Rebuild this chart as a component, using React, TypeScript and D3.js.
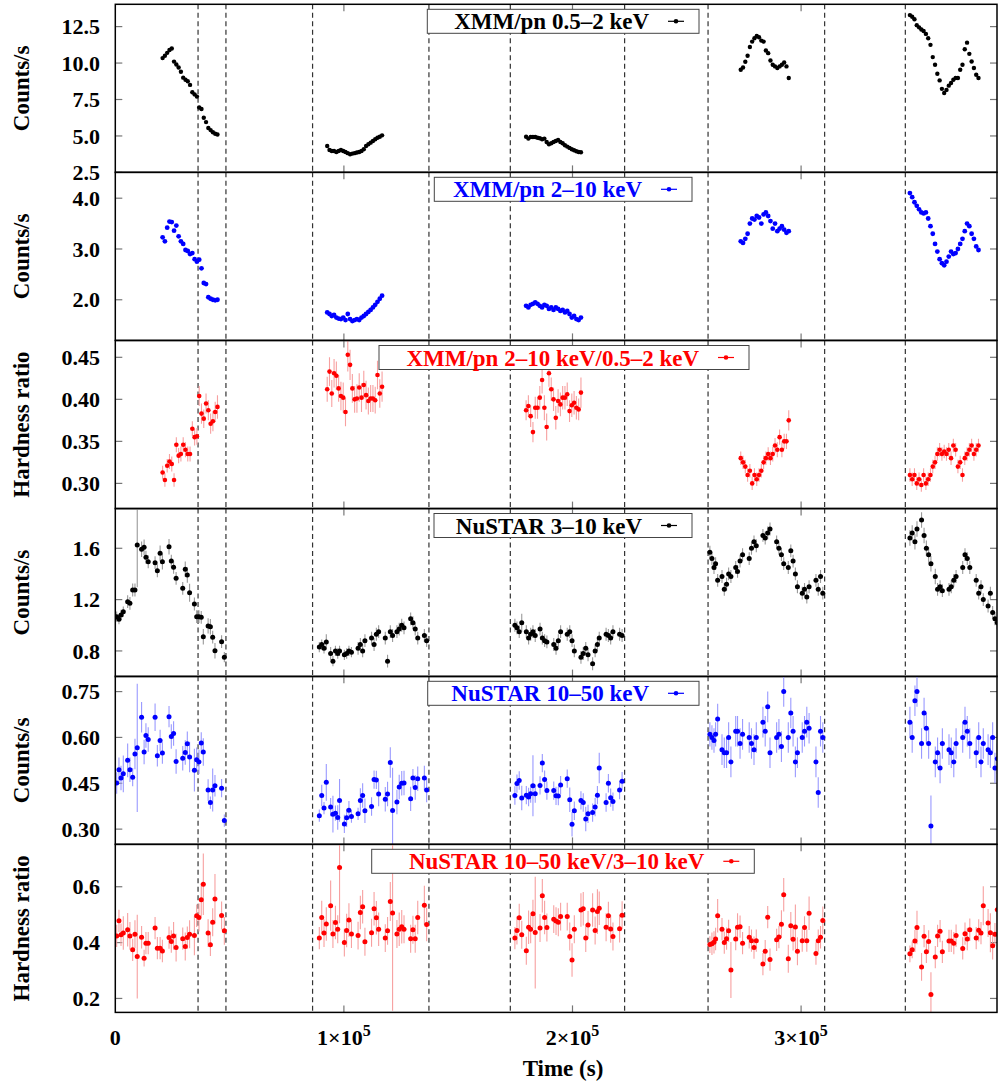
import React from 'react';
import * as d3 from 'd3';

// ---------- data (times in ks) ----------
const xmmStartKs = [20.7, 92.7, 179.7, 273.6, 347.6];
const xmmBinKs = 1.0;

const xmmSoft = [
  [10.34, 10.5, 10.7, 10.9, 11.0, 10.1, 9.9, 9.7, 9.4, 9.0, 8.85, 8.75, 8.5, 8.0, 7.85, 7.7, 6.95, 6.85, 6.25, 5.95, 5.55, 5.4, 5.25, 5.15, 5.1],
  [4.31, 4.04, 3.97, 3.97, 3.9, 3.97, 4.04, 3.97, 3.9, 3.82, 3.75, 3.79, 3.82, 3.86, 3.9, 3.97, 4.09, 4.31, 4.43, 4.54, 4.65, 4.77, 4.88, 4.95, 5.04],
  [4.95, 4.82, 4.93, 4.93, 4.93, 4.88, 4.84, 4.77, 4.82, 4.59, 4.43, 4.5, 4.59, 4.65, 4.72, 4.59, 4.5, 4.36, 4.27, 4.18, 4.09, 4.02, 3.95, 3.9, 3.88],
  [9.54, 9.7, 10.09, 10.5, 11.1, 11.47, 11.7, 11.86, 11.77, 11.54, 11.47, 10.86, 10.68, 10.18, 9.88, 9.77, 9.66, 9.77, 9.88, 10.04, 9.77, 8.98],
  [13.29, 13.18, 13.0, 12.6, 12.45, 12.3, 12.2, 12.0, 11.7, 11.25, 10.41, 9.88, 9.27, 8.81, 8.23, 7.95, 8.16, 8.45, 8.63, 8.86, 8.98, 8.98, 9.54, 9.88, 10.95, 11.4, 10.63, 10.11, 9.66, 9.2, 8.98],
];

const xmmHard = [
  [3.23, 3.15, 3.42, 3.54, 3.53, 3.36, 3.46, 3.25, 3.15, 3.1, 2.98, 2.96, 2.9, 2.92, 2.8, 2.75, 2.79, 2.62, 2.33, 2.31, 2.05, 2.02, 2.0, 1.99, 2.0],
  [1.75, 1.72, 1.68, 1.7, 1.65, 1.63, 1.62, 1.65, 1.6, 1.72, 1.62, 1.58, 1.6, 1.62, 1.6, 1.65, 1.68, 1.72, 1.76, 1.8, 1.85, 1.9, 1.96, 2.02, 2.08],
  [1.88, 1.85, 1.9, 1.92, 1.95, 1.92, 1.88, 1.85, 1.9, 1.88, 1.82, 1.85, 1.8, 1.85, 1.82, 1.78, 1.8, 1.75, 1.78, 1.72, 1.65, 1.68, 1.62, 1.6, 1.65],
  [3.15, 3.12, 3.2, 3.3, 3.5, 3.6, 3.58, 3.65, 3.62, 3.5, 3.68, 3.72, 3.65, 3.55, 3.4, 3.5, 3.35, 3.4, 3.45, 3.38, 3.32, 3.35],
  [4.1, 4.02, 3.92, 3.85, 3.78, 3.72, 3.7, 3.72, 3.6, 3.45, 3.3, 3.1, 2.95, 2.8, 2.72, 2.68, 2.75, 2.85, 2.95, 2.9, 2.92, 3.0, 3.1, 3.2, 3.35, 3.5, 3.45, 3.3, 3.2, 3.05, 2.98],
];

const xmmRatio = [
  [0.313, 0.304, 0.321, 0.326, 0.323, 0.304, 0.346, 0.333, 0.335, 0.346, 0.34, 0.335, 0.335, 0.365, 0.355, 0.356, 0.404, 0.383, 0.377, 0.395, 0.387, 0.371, 0.374, 0.385, 0.391],
  [0.412, 0.433, 0.407, 0.431, 0.428, 0.413, 0.404, 0.402, 0.385, 0.453, 0.441, 0.413, 0.4, 0.401, 0.414, 0.402, 0.417, 0.405, 0.398, 0.401, 0.401, 0.399, 0.429, 0.407, 0.415],
  [0.387, 0.392, 0.38, 0.361, 0.39, 0.39, 0.402, 0.423, 0.39, 0.367, 0.431, 0.412, 0.4, 0.378, 0.398, 0.394, 0.402, 0.402, 0.406, 0.386, 0.393, 0.396, 0.39, 0.388, 0.408],
  [0.33, 0.325, 0.32, 0.31, 0.315, 0.3, 0.31, 0.305, 0.31, 0.315, 0.325, 0.33, 0.335, 0.33, 0.335, 0.345, 0.34, 0.355, 0.34, 0.35, 0.35, 0.375],
  [0.31, 0.305, 0.31, 0.3, 0.305, 0.298, 0.31, 0.3, 0.305, 0.31, 0.32, 0.325, 0.335, 0.34, 0.335, 0.338, 0.335, 0.34, 0.33, 0.345, 0.34, 0.32, 0.325, 0.31, 0.33, 0.335, 0.34, 0.345, 0.335, 0.34, 0.345],
];
const xmmRatioErr = [
  [0.008, 0.008, 0.008, 0.009, 0.009, 0.008, 0.009, 0.009, 0.009, 0.009, 0.009, 0.009, 0.009, 0.009, 0.01, 0.01, 0.012, 0.012, 0.011, 0.012, 0.012, 0.012, 0.012, 0.012, 0.014],
  [0.015, 0.017, 0.016, 0.017, 0.017, 0.016, 0.017, 0.018, 0.017, 0.02, 0.018, 0.017, 0.016, 0.017, 0.017, 0.017, 0.017, 0.017, 0.016, 0.016, 0.016, 0.016, 0.017, 0.017, 0.018],
  [0.012, 0.013, 0.013, 0.012, 0.013, 0.013, 0.014, 0.016, 0.015, 0.016, 0.016, 0.014, 0.014, 0.014, 0.014, 0.014, 0.014, 0.014, 0.014, 0.013, 0.014, 0.014, 0.014, 0.013, 0.018],
  [0.008, 0.008, 0.008, 0.008, 0.008, 0.008, 0.008, 0.008, 0.008, 0.008, 0.008, 0.008, 0.008, 0.008, 0.009, 0.009, 0.009, 0.009, 0.009, 0.009, 0.009, 0.012],
  [0.008, 0.008, 0.008, 0.008, 0.008, 0.008, 0.008, 0.008, 0.008, 0.008, 0.008, 0.008, 0.008, 0.008, 0.008, 0.008, 0.008, 0.008, 0.008, 0.008, 0.008, 0.008, 0.008, 0.008, 0.008, 0.008, 0.008, 0.008, 0.008, 0.008, 0.008],
];

const nuTimesKs = [
  [0.6, 1.6, 2.5, 3.5, 5.4, 6.4, 7.6, 8.6, 9.6, 11.5, 12.6, 13.4, 14.4, 17.4, 18.4, 19.6, 20.6, 23.5, 24.5, 25.5, 26.6, 29.5, 30.6, 31.5, 32.5, 34.6, 35.6, 36.6, 37.6, 38.5, 40.6, 41.6, 42.6, 43.6, 46.5, 47.7],
  [89.25, 90.3, 91.3, 92.3, 94.2, 95.2, 96.3, 97.3, 98.1, 100.2, 101.2, 102.2, 103.3, 106.2, 107.2, 108.2, 109.2, 112.1, 113.2, 114.2, 115.2, 118.1, 119.1, 120.3, 121.3, 123.2, 124.2, 125.3, 126.3, 129.2, 130.2, 131.2, 132.3, 135.2, 136.2],
  [174.8, 175.7, 176.7, 177.8, 179.8, 180.8, 181.7, 182.7, 183.7, 185.8, 186.8, 187.8, 188.8, 191.8, 192.8, 193.8, 194.8, 197.7, 198.8, 199.8, 200.8, 203.7, 204.7, 205.8, 206.8, 208.8, 209.9, 210.9, 211.7, 214.7, 215.7, 216.7, 217.7, 220.6, 221.7],
  [260.1, 261.0, 261.9, 262.6, 263.5, 265.4, 266.4, 267.4, 268.3, 269.3, 271.4, 272.2, 273.3, 274.4, 277.3, 278.3, 279.4, 280.4, 283.3, 284.3, 285.4, 286.4, 289.3, 290.3, 291.4, 292.4, 294.4, 295.5, 296.5, 297.5, 298.4, 300.5, 301.5, 302.5, 303.5, 306.5, 307.5, 308.5, 309.5],
  [347.6, 348.6, 349.8, 350.7, 352.7, 353.8, 354.8, 355.8, 356.8, 358.7, 359.7, 360.8, 361.8, 364.7, 365.7, 366.8, 367.8, 370.7, 371.7, 372.7, 373.8, 376.6, 377.7, 378.7, 379.7, 381.8, 382.8, 383.8, 384.8, 385.8],
];

const nuSoft = [
  [1.067, 1.047, 1.08, 1.106, 1.184, 1.171, 1.275, 1.275, 1.626, 1.592, 1.608, 1.53, 1.495, 1.488, 1.425, 1.561, 1.495, 1.612, 1.5, 1.452, 1.366, 1.288, 1.436, 1.392, 1.254, 1.166, 1.067, 1.067, 1.062, 0.911, 0.995, 0.989, 0.907, 0.802, 0.872, 0.751],
  [0.83, 0.85, 0.82, 0.87, 0.78, 0.72, 0.8, 0.78, 0.8, 0.77, 0.78, 0.8, 0.79, 0.82, 0.85, 0.8, 0.88, 0.9, 0.85, 0.93, 0.95, 0.9, 0.72, 0.95, 0.92, 0.95, 0.97, 1.0, 0.98, 1.05, 1.02, 0.97, 0.9, 0.92, 0.88],
  [1.0, 0.98, 0.95, 1.02, 0.95, 0.9, 0.93, 0.95, 0.92, 0.97, 0.9, 0.88, 0.87, 0.85, 0.82, 0.88, 0.95, 0.93, 0.95, 0.88, 0.8, 0.75, 0.78, 0.82, 0.77, 0.7, 0.8, 0.85, 0.9, 0.93, 0.92, 0.9, 0.95, 0.93, 0.92],
  [1.57, 1.52, 1.45, 1.48, 1.35, 1.38, 1.28, 1.32, 1.4, 1.38, 1.45, 1.42, 1.5, 1.55, 1.52, 1.6, 1.65, 1.62, 1.7, 1.68, 1.72, 1.75, 1.65, 1.6, 1.55, 1.48, 1.45, 1.58, 1.5, 1.4, 1.3, 1.25, 1.28, 1.22, 1.3, 1.35, 1.28, 1.38, 1.25],
  [1.68, 1.72, 1.65, 1.75, 1.82, 1.7, 1.6, 1.55, 1.48, 1.38, 1.28, 1.3, 1.27, 1.28, 1.3, 1.35, 1.38, 1.45, 1.55, 1.52, 1.45, 1.35, 1.25, 1.3, 1.2, 1.15, 1.25, 1.1, 1.05, 1.02],
];
const nuSoftErr = [
  [0.04, 0.04, 0.04, 0.04, 0.05, 0.05, 0.05, 0.05, 0.33, 0.06, 0.06, 0.05, 0.05, 0.05, 0.05, 0.06, 0.06, 0.06, 0.05, 0.05, 0.05, 0.05, 0.06, 0.06, 0.07, 0.05, 0.05, 0.05, 0.05, 0.06, 0.06, 0.06, 0.05, 0.06, 0.05, 0.04],
  [0.04, 0.04, 0.04, 0.06, 0.05, 0.04, 0.04, 0.04, 0.04, 0.04, 0.04, 0.04, 0.04, 0.05, 0.05, 0.05, 0.05, 0.05, 0.05, 0.05, 0.05, 0.05, 0.05, 0.05, 0.05, 0.05, 0.05, 0.05, 0.05, 0.05, 0.05, 0.05, 0.05, 0.05, 0.05],
  [0.05, 0.05, 0.05, 0.07, 0.05, 0.05, 0.05, 0.05, 0.05, 0.05, 0.05, 0.05, 0.05, 0.05, 0.05, 0.05, 0.05, 0.05, 0.05, 0.05, 0.05, 0.05, 0.05, 0.05, 0.05, 0.05, 0.05, 0.05, 0.05, 0.05, 0.05, 0.05, 0.05, 0.05, 0.05],
  [0.05, 0.05, 0.05, 0.05, 0.05, 0.05, 0.05, 0.05, 0.05, 0.05, 0.05, 0.05, 0.05, 0.05, 0.05, 0.05, 0.05, 0.05, 0.05, 0.05, 0.05, 0.05, 0.05, 0.05, 0.05, 0.05, 0.05, 0.05, 0.05, 0.05, 0.05, 0.05, 0.05, 0.05, 0.05, 0.05, 0.05, 0.05, 0.05],
  [0.06, 0.06, 0.06, 0.06, 0.06, 0.06, 0.06, 0.06, 0.06, 0.06, 0.05, 0.05, 0.05, 0.05, 0.05, 0.05, 0.05, 0.05, 0.05, 0.05, 0.05, 0.05, 0.05, 0.05, 0.05, 0.05, 0.05, 0.05, 0.05, 0.05],
];

const nuHard = [
  [0.451, 0.494, 0.467, 0.481, 0.525, 0.494, 0.47, 0.546, 0.566, 0.666, 0.552, 0.606, 0.593, 0.666, 0.54, 0.59, 0.549, 0.668, 0.603, 0.613, 0.521, 0.532, 0.551, 0.579, 0.536, 0.493, 0.527, 0.52, 0.582, 0.552, 0.428, 0.387, 0.428, 0.442, 0.434, 0.328],
  [0.344, 0.41, 0.369, 0.453, 0.372, 0.349, 0.352, 0.338, 0.394, 0.317, 0.337, 0.362, 0.341, 0.35, 0.394, 0.41, 0.36, 0.374, 0.462, 0.461, 0.415, 0.398, 0.415, 0.518, 0.361, 0.389, 0.438, 0.45, 0.451, 0.399, 0.467, 0.436, 0.465, 0.467, 0.428],
  [0.41, 0.449, 0.459, 0.402, 0.411, 0.405, 0.416, 0.442, 0.416, 0.443, 0.516, 0.462, 0.426, 0.426, 0.409, 0.408, 0.444, 0.465, 0.396, 0.316, 0.36, 0.394, 0.387, 0.333, 0.35, 0.354, 0.372, 0.411, 0.5, 0.387, 0.45, 0.403, 0.39, 0.428, 0.457],
  [0.61, 0.6, 0.59, 0.61, 0.66, 0.56, 0.55, 0.55, 0.6, 0.52, 0.62, 0.62, 0.58, 0.61, 0.6, 0.58, 0.56, 0.6, 0.65, 0.62, 0.7, 0.55, 0.6, 0.61, 0.57, 0.75, 0.6, 0.68, 0.62, 0.52, 0.55, 0.6, 0.62, 0.65, 0.63, 0.52, 0.42, 0.62, 0.6],
  [0.65, 0.6, 0.72, 0.75, 0.58, 0.68, 0.63, 0.58, 0.31, 0.52, 0.55, 0.5, 0.58, 0.56, 0.55, 0.52, 0.58, 0.6, 0.65, 0.62, 0.58, 0.55, 0.6, 0.52, 0.58, 0.56, 0.55, 0.6, 0.5, 0.53],
];
const nuHardErr = [
  [0.035, 0.04, 0.04, 0.06, 0.055, 0.04, 0.03, 0.05, 0.21, 0.05, 0.04, 0.04, 0.04, 0.045, 0.035, 0.035, 0.035, 0.035, 0.04, 0.04, 0.04, 0.04, 0.04, 0.04, 0.05, 0.07, 0.04, 0.04, 0.035, 0.045, 0.035, 0.02, 0.07, 0.035, 0.03, 0.02],
  [0.02, 0.035, 0.02, 0.06, 0.03, 0.06, 0.025, 0.04, 0.07, 0.03, 0.03, 0.03, 0.02, 0.02, 0.04, 0.04, 0.04, 0.03, 0.03, 0.03, 0.04, 0.04, 0.04, 0.05, 0.14, 0.04, 0.04, 0.04, 0.04, 0.04, 0.03, 0.04, 0.04, 0.04, 0.04],
  [0.03, 0.03, 0.03, 0.04, 0.03, 0.03, 0.03, 0.1, 0.03, 0.03, 0.03, 0.03, 0.03, 0.03, 0.03, 0.03, 0.03, 0.03, 0.04, 0.04, 0.03, 0.03, 0.03, 0.04, 0.03, 0.03, 0.03, 0.03, 0.05, 0.03, 0.03, 0.03, 0.03, 0.03, 0.03],
  [0.04, 0.04, 0.04, 0.04, 0.05, 0.05, 0.05, 0.05, 0.05, 0.05, 0.05, 0.05, 0.05, 0.05, 0.05, 0.05, 0.05, 0.05, 0.05, 0.05, 0.05, 0.05, 0.05, 0.05, 0.05, 0.05, 0.05, 0.05, 0.05, 0.05, 0.05, 0.05, 0.05, 0.05, 0.05, 0.05, 0.05, 0.05, 0.05],
  [0.05, 0.05, 0.05, 0.05, 0.05, 0.05, 0.05, 0.05, 0.1, 0.05, 0.05, 0.05, 0.05, 0.05, 0.05, 0.05, 0.05, 0.05, 0.05, 0.05, 0.05, 0.05, 0.05, 0.05, 0.05, 0.05, 0.05, 0.05, 0.05, 0.05],
];

const nuRatio = [
  [0.424, 0.478, 0.428, 0.434, 0.446, 0.424, 0.374, 0.43, 0.35, 0.419, 0.344, 0.398, 0.398, 0.452, 0.38, 0.38, 0.37, 0.418, 0.404, 0.424, 0.382, 0.414, 0.386, 0.418, 0.43, 0.425, 0.496, 0.49, 0.553, 0.609, 0.434, 0.392, 0.473, 0.556, 0.497, 0.442],
  [0.416, 0.49, 0.434, 0.467, 0.532, 0.431, 0.472, 0.448, 0.669, 0.4, 0.443, 0.481, 0.431, 0.425, 0.508, 0.528, 0.403, 0.435, 0.521, 0.489, 0.448, 0.416, 0.442, 0.547, 0.506, 0.431, 0.448, 0.457, 0.448, 0.414, 0.446, 0.414, 0.49, 0.534, 0.465],
  [0.416, 0.443, 0.489, 0.428, 0.371, 0.455, 0.448, 0.503, 0.436, 0.452, 0.568, 0.49, 0.454, 0.484, 0.477, 0.473, 0.493, 0.493, 0.422, 0.338, 0.448, 0.517, 0.521, 0.416, 0.463, 0.517, 0.443, 0.511, 0.523, 0.455, 0.496, 0.449, 0.422, 0.45, 0.498],
  [0.393, 0.396, 0.401, 0.413, 0.496, 0.448, 0.4, 0.414, 0.442, 0.302, 0.413, 0.455, 0.457, 0.398, 0.419, 0.407, 0.382, 0.407, 0.323, 0.369, 0.491, 0.339, 0.41, 0.42, 0.466, 0.571, 0.342, 0.46, 0.412, 0.456, 0.369, 0.407, 0.454, 0.407, 0.505, 0.361, 0.407, 0.419, 0.479],
  [0.36, 0.374, 0.406, 0.454, 0.313, 0.423, 0.367, 0.404, 0.214, 0.348, 0.424, 0.441, 0.367, 0.406, 0.406, 0.398, 0.425, 0.379, 0.432, 0.413, 0.446, 0.416, 0.444, 0.434, 0.532, 0.47, 0.435, 0.389, 0.43, 0.518],
];
const nuRatioErr = [
  [0.04, 0.04, 0.04, 0.06, 0.06, 0.05, 0.04, 0.05, 0.15, 0.04, 0.03, 0.04, 0.04, 0.04, 0.04, 0.04, 0.04, 0.04, 0.04, 0.05, 0.05, 0.04, 0.05, 0.04, 0.05, 0.07, 0.04, 0.05, 0.06, 0.11, 0.05, 0.04, 0.05, 0.09, 0.05, 0.05],
  [0.04, 0.06, 0.05, 0.06, 0.09, 0.05, 0.06, 0.05, 0.2, 0.05, 0.06, 0.06, 0.05, 0.05, 0.06, 0.06, 0.05, 0.05, 0.06, 0.06, 0.06, 0.05, 0.05, 0.07, 0.35, 0.05, 0.06, 0.06, 0.05, 0.05, 0.05, 0.05, 0.06, 0.07, 0.06],
  [0.04, 0.05, 0.05, 0.05, 0.05, 0.06, 0.05, 0.05, 0.2, 0.05, 0.06, 0.06, 0.05, 0.05, 0.05, 0.05, 0.05, 0.05, 0.05, 0.06, 0.05, 0.06, 0.06, 0.05, 0.05, 0.06, 0.05, 0.08, 0.06, 0.05, 0.05, 0.05, 0.05, 0.05, 0.05],
  [0.03, 0.04, 0.04, 0.04, 0.06, 0.04, 0.04, 0.04, 0.04, 0.1, 0.04, 0.05, 0.04, 0.04, 0.04, 0.04, 0.04, 0.04, 0.04, 0.04, 0.04, 0.04, 0.04, 0.04, 0.05, 0.06, 0.05, 0.05, 0.04, 0.08, 0.05, 0.04, 0.04, 0.04, 0.06, 0.04, 0.04, 0.04, 0.05],
  [0.03, 0.03, 0.04, 0.06, 0.05, 0.04, 0.04, 0.04, 0.08, 0.04, 0.04, 0.04, 0.04, 0.04, 0.04, 0.04, 0.04, 0.04, 0.04, 0.04, 0.04, 0.04, 0.04, 0.04, 0.07, 0.05, 0.07, 0.05, 0.04, 0.1],
];

const dashedKs = [36.2, 48.4, 86.3, 137.2, 172.8, 222.8, 259.3, 310.3, 345.6];
const xTickKs = [0, 100, 200, 300];

// ---------- layout ----------
const PLOT_L = 115.3;
const PLOT_R = 997;
const PANEL_TOPS = [4.3, 172.3, 340.5, 508.5, 676.3, 844.3];
const PANEL_H = 168.1;
const FONT = "'Liberation Serif', 'Times New Roman', Times, serif";

type Pt = { t: number; v: number; e?: number };

const xmmPoints = (vals: number[][], errs?: number[][]): Pt[] =>
  vals.flatMap((seg, s) =>
    seg.map((v, i) => ({ t: xmmStartKs[s] + i * xmmBinKs, v, e: errs ? errs[s][i] : undefined }))
  );
const nuPoints = (vals: number[][], errs: number[][]): Pt[] =>
  vals.flatMap((seg, s) => seg.map((v, i) => ({ t: nuTimesKs[s][i], v, e: errs[s][i] })));

const panels = [
  { domain: [2.5, 14.03], ticks: [2.5, 5, 7.5, 10, 12.5], fmt: '.1f', label: 'Counts/s', legend: 'XMM/pn 0.5\u20132 keV', color: '#000000', errColor: '#888', pts: xmmPoints(xmmSoft), r: 2.2, box: [427.3, 699] },
  { domain: [1.2, 4.51], ticks: [2, 3, 4], fmt: '.1f', label: 'Counts/s', legend: 'XMM/pn 2\u201310 keV', color: '#0000ff', errColor: '#8888ff', pts: xmmPoints(xmmHard), r: 2.4, box: [434.3, 692] },
  { domain: [0.27, 0.47], ticks: [0.3, 0.35, 0.4, 0.45], fmt: '.2f', label: 'Hardness ratio', legend: 'XMM/pn 2\u201310 keV/0.5\u20132 keV', color: '#ff0000', errColor: '#f7a0a0', pts: xmmPoints(xmmRatio, xmmRatioErr), r: 2.3, box: [379, 749] },
  { domain: [0.6, 1.91], ticks: [0.8, 1.2, 1.6], fmt: '.1f', label: 'Counts/s', legend: 'NuSTAR 3\u201310 keV', color: '#000000', errColor: '#999', pts: nuPoints(nuSoft, nuSoftErr), r: 2.5, box: [434, 692] },
  { domain: [0.25, 0.80], ticks: [0.3, 0.45, 0.6, 0.75], fmt: '.2f', label: 'Counts/s', legend: 'NuSTAR 10\u201350 keV', color: '#0000ff', errColor: '#9999ff', pts: nuPoints(nuHard, nuHardErr), r: 2.5, box: [427.7, 699] },
  { domain: [0.15, 0.752], ticks: [0.2, 0.4, 0.6], fmt: '.1f', label: 'Hardness ratio', legend: 'NuSTAR 10\u201350 keV/3\u201310 keV', color: '#ff0000', errColor: '#f7a0a0', pts: nuPoints(nuRatio, nuRatioErr), r: 2.5, box: [371.7, 754.3] },
];

export default function App() {
  const x = d3.scaleLinear().domain([0, 385.7]).range([PLOT_L, PLOT_R]);

  return (
    <svg
      width={1000}
      height={1082}
      style={{ position: 'absolute', left: 0, top: 0, background: '#fff' }}
      fontFamily={FONT}
    >
      <rect x={0} y={0} width={1000} height={1082} fill="#fff" />
      <defs>
        {panels.map((p, k) => (
          <clipPath id={`clip${k}`} key={k}>
            <rect x={PLOT_L} y={PANEL_TOPS[k]} width={PLOT_R - PLOT_L} height={PANEL_H} />
          </clipPath>
        ))}
      </defs>
      {panels.map((p, k) => {
        const top = PANEL_TOPS[k];
        const y = d3.scaleLinear().domain(p.domain).range([top + PANEL_H, top]);
        const fmt = d3.format(p.fmt);
        return (
          <g key={k}>
            {dashedKs.map((t, i) => (
              <line key={i} x1={x(t)} x2={x(t)} y1={top} y2={top + PANEL_H} stroke="#333" strokeWidth={1.2} strokeDasharray="5,3.5" />
            ))}
            {xTickKs.slice(1).map((t, i) => (
              <g key={i}>
                <line x1={x(t)} x2={x(t)} y1={top} y2={top + 7} stroke="#777" strokeWidth={1.2} />
                <line x1={x(t)} x2={x(t)} y1={top + PANEL_H} y2={top + PANEL_H - 7} stroke="#777" strokeWidth={1.2} />
              </g>
            ))}
            {p.ticks.map((tv, i) => (
              <g key={i}>
                <line x1={PLOT_L} x2={PLOT_L + 7} y1={y(tv)} y2={y(tv)} stroke="#777" strokeWidth={1.2} />
                <line x1={PLOT_R} x2={PLOT_R - 7} y1={y(tv)} y2={y(tv)} stroke="#777" strokeWidth={1.2} />
                <text x={100} y={y(tv)} dy="0.35em" textAnchor="end" fontSize={22} fontWeight="bold">
                  {fmt(tv)}
                </text>
              </g>
            ))}
            <text
              transform={`translate(28.5,${top + PANEL_H / 2}) rotate(-90)`}
              textAnchor="middle"
              fontSize={23}
              fontWeight="bold"
            >
              {p.label}
            </text>
            <g clipPath={`url(#clip${k})`}>
              {p.pts.map((d, i) =>
                d.e !== undefined ? (
                  <line key={'e' + i} x1={x(d.t)} x2={x(d.t)} y1={y(d.v - d.e)} y2={y(d.v + d.e)} stroke={p.errColor} strokeWidth={1.1} />
                ) : null
              )}
              {p.pts.map((d, i) => (
                <circle key={'c' + i} cx={x(d.t)} cy={y(d.v)} r={p.r} fill={p.color} />
              ))}
            </g>
            <rect x={p.box[0]} y={top + 5} width={p.box[1] - p.box[0]} height={24} fill="#fff" stroke="#444" strokeWidth={1} />
            <text x={p.box[1] - 50} y={top + 25} textAnchor="end" fontSize={23} fontWeight="bold" fill={p.color}>
              {p.legend}
            </text>
            <line x1={p.box[1] - 31} x2={p.box[1] - 15} y1={top + 17} y2={top + 17} stroke={p.color} strokeWidth={1.2} />
            <circle cx={p.box[1] - 23} cy={top + 17} r={2.3} fill={p.color} />
            <rect x={PLOT_L} y={top} width={PLOT_R - PLOT_L} height={PANEL_H} fill="none" stroke="#000" strokeWidth={1.5} />
          </g>
        );
      })}
      {xTickKs.map((t, i) => (
        <text key={i} x={x(t)} y={1045} textAnchor="middle" fontSize={22} fontWeight="bold">
          {t === 0 ? '0' : (
            <>
              {`${t / 100}\u00d710`}
              <tspan dy={-9} fontSize={16}>5</tspan>
            </>
          )}
        </text>
      ))}
      <text x={563} y={1076} textAnchor="middle" fontSize={23} fontWeight="bold">
        Time (s)
      </text>
    </svg>
  );
}
